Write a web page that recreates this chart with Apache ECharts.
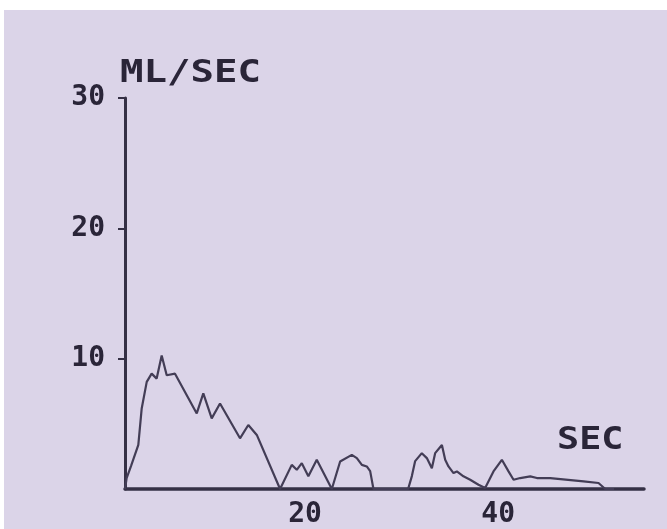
<!DOCTYPE html>
<html>
<head>
<meta charset="utf-8">
<script src="https://cdn.jsdelivr.net/npm/echarts@6/dist/echarts.min.js"></script>
<style>
  html, body { margin: 0; padding: 0; background: #ffffff; }
  #chart { width: 667px; height: 529px; }
</style>
</head>
<body>
<div id="chart"></div>
<script>
// Flow trace: time in seconds vs flow rate in ml/sec
const seconds = [1.35, 1.52, 1.97, 2.73, 3.08, 3.60, 4.11, 4.63, 5.15, 5.67, 6.53,
  8.78, 9.46, 10.33, 11.19, 13.26, 14.12, 15.0, 17.41, 18.62, 19.14, 19.66, 20.34,
  21.21, 22.77, 23.63, 24.84, 25.36, 25.88, 26.39, 26.74, 27.08, 30.67, 31.06, 31.40,
  32.09, 32.61, 33.13, 33.47, 34.17, 34.51, 34.85, 35.37, 35.72, 36.40, 37.10, 37.96,
  38.65, 39.51, 40.38, 41.07, 41.59, 42.28, 43.32, 44.01, 45.39, 48.84, 50.39, 51.09, 52.0];
const flow = [0, 0.84, 1.76, 3.38, 6.18, 8.22, 8.85, 8.47, 10.25, 8.73, 8.85,
  5.80, 7.33, 5.42, 6.56, 3.89, 4.91, 4.15, 0, 1.85, 1.47, 1.98, 0.97,
  2.24, 0, 2.11, 2.62, 2.37, 1.85, 1.73, 1.37, 0, 0, 0.99, 2.14,
  2.75, 2.37, 1.60, 2.75, 3.38, 2.24, 1.73, 1.22, 1.35, 0.97, 0.71, 0.33,
  0.08, 1.35, 2.24, 1.35, 0.71, 0.84, 0.97, 0.84, 0.84, 0.59, 0.46, 0, 0];
const xTickLabels = [20, 40];
const yTickLabels = [10, 20, 30];

const ink = '#2a2538';
const digitFont = '"DejaVu Sans Mono", monospace';

const chart = echarts.init(document.getElementById('chart'), null, { renderer: 'canvas' });
chart.setOption({
  backgroundColor: '#ffffff',
  animation: false,
  graphic: [
    { type: 'rect', z: -10, shape: { x: 4, y: 10, width: 663, height: 519 },
      style: { fill: '#dbd4e8' } },
    { type: 'text', x: 120, y: 58, scaleX: 1.22, z: 10,
      style: { text: 'ML/SEC', font: 'bold 32px ' + digitFont, fill: ink } },
    { type: 'text', x: 557, y: 425, scaleX: 1.15, z: 10,
      style: { text: 'SEC', font: 'bold 32px ' + digitFont, fill: ink } }
  ],
  grid: { left: 125, top: 98, right: 23, bottom: 38, containLabel: false },
  xAxis: {
    type: 'value', min: 1.35, max: 55.1,
    axisLine: { lineStyle: { color: '#353045', width: 3.5 } },
    axisTick: { show: false },
    splitLine: { show: false },
    axisLabel: {
      customValues: xTickLabels, margin: 12,
      color: ink, fontFamily: digitFont, fontWeight: 'bold', fontSize: 28
    }
  },
  yAxis: {
    type: 'value', min: 0, max: 30, interval: 10,
    axisLine: { show: true, lineStyle: { color: '#353045', width: 3 } },
    axisTick: { show: true, customValues: yTickLabels, length: 7, lineStyle: { color: '#353045', width: 2 } },
    splitLine: { show: false },
    axisLabel: {
      customValues: yTickLabels, margin: 20,
      color: ink, fontFamily: digitFont, fontWeight: 'bold', fontSize: 28
    }
  },
  series: [{
    type: 'line',
    data: seconds.map((s, i) => [s, flow[i]]),
    showSymbol: false,
    lineStyle: { color: '#433d56', width: 2.2 },
    z: 3
  }]
});
</script>
</body>
</html>
